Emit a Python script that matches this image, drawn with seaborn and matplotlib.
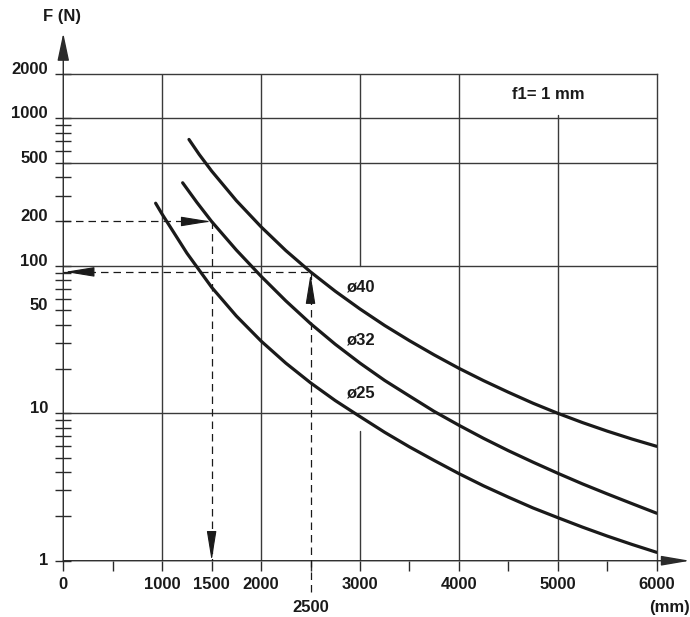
import matplotlib
matplotlib.use("Agg")
import matplotlib.pyplot as plt
import seaborn as sns
import pandas as pd
from matplotlib.ticker import NullFormatter

# ---- data ----
L25 = [934, 1000, 1250, 1500, 1750, 2000, 2250, 2500, 2750, 3000, 3250, 3500,
       3750, 4000, 4250, 4500, 4750, 5000, 5250, 5500, 5750, 6000]
F25 = [266, 224, 122, 71.6, 45.7, 30.9, 21.9, 16.1, 12.2, 9.5, 7.43, 5.92,
       4.79, 3.90, 3.22, 2.70, 2.28, 1.96, 1.69, 1.47, 1.29, 1.14]

L32 = [1207, 1350, 1500, 1750, 2000, 2250, 2500, 2750, 3000, 3250, 3500, 3750,
       4000, 4250, 4500, 4750, 5000, 5250, 5500, 5750, 6000]
F32 = [366, 270, 200, 128, 85, 57.9, 40.6, 29.4, 21.9, 16.7, 13.1, 10.3,
       8.3, 6.76, 5.58, 4.66, 3.92, 3.32, 2.84, 2.44, 2.10]

L40 = [1271, 1375, 1500, 1750, 2000, 2250, 2500, 2750, 3000, 3250, 3500, 3750,
       4000, 4250, 4500, 4750, 5000, 5250, 5500, 5750, 6000]
F40 = [720, 569, 440, 277, 184, 127, 91, 67.3, 51, 39.4, 31.1, 24.9,
       20.2, 16.65, 13.9, 11.7, 10.0, 8.65, 7.57, 6.69, 5.97]

curve_names = ["ø25", "ø32", "ø40"]
curve_label_F = [13.8, 31.6, 72]
curve_label_L = 3000

x_major = [0, 1000, 1500, 2000, 3000, 4000, 5000, 6000]
x_major_labels = ["0", "1000", "1500", "2000", "3000", "4000", "5000", "6000"]
x_minor = [500, 2500, 3500, 4500, 5500]

y_major = [1, 10, 50, 100, 200, 500, 1000, 2000]
y_major_labels = ["1", "10", "50", "100", "200", "500", "1000", "2000"]
y_minor = [2, 3, 4, 5, 6, 7, 8, 9, 20, 30, 40, 60, 70, 80, 90,
           300, 400, 600, 700, 800, 900]

h_grid = [10, 100, 500, 1000]
v_grid_full = [1000, 2000, 4000]
v_grid_3000 = [(1, 7.6), (100, 2000)]
v_grid_5000 = [(1, 1050)]

# example reading lines
ex1_L, ex1_F = 1500, 200
ex2_L, ex2_F = 2500, 91

INK = "#1a1a1a"
GRID = "#3a3a3a"
AXC = "#2a2a2a"

sns.set_theme(style="white")
plt.rcParams["font.family"] = ["Liberation Sans", "DejaVu Sans"]
plt.rcParams["font.weight"] = "bold"

fig = plt.figure(figsize=(6.9, 6.17), dpi=100)
ax = fig.add_axes([0.0917, 0.0912, 0.86, 0.7888])

df = pd.concat([
    pd.DataFrame({"L": L25, "F": F25, "dia": "ø25"}),
    pd.DataFrame({"L": L32, "F": F32, "dia": "ø32"}),
    pd.DataFrame({"L": L40, "F": F40, "dia": "ø40"}),
])
sns.lineplot(data=df, x="L", y="F", units="dia", estimator=None, color=INK,
             lw=2.3, ax=ax, legend=False, zorder=5)

ax.set_yscale("log")
ax.set_xlim(0, 6000)
ax.set_ylim(1, 2000)
ax.set_xlabel("")
ax.set_ylabel("")

# grid
for v in h_grid:
    ax.axhline(v, color=GRID, lw=1.0, zorder=1)
for v in v_grid_full:
    ax.axvline(v, color=GRID, lw=1.0, zorder=1)
for a, b in v_grid_3000:
    ax.plot([3000, 3000], [a, b], color=GRID, lw=1.0, zorder=1)
for a, b in v_grid_5000:
    ax.plot([5000, 5000], [a, b], color=GRID, lw=1.0, zorder=1)

for s in ["top", "right"]:
    ax.spines[s].set_color(GRID)
    ax.spines[s].set_linewidth(1.0)
for s in ["left", "bottom"]:
    ax.spines[s].set_visible(False)

# ticks
ax.set_xticks(x_major, labels=x_major_labels, fontsize=12, fontweight="bold")
ax.set_xticks(x_minor, minor=True)
ax.tick_params(axis="x", which="both", bottom=True, top=False, direction="out",
               length=7.2, width=1.0, color=AXC, pad=4.5, labelcolor=INK)
ax.set_yticks(y_major)
ax.set_yticks(y_minor, minor=True)
ax.yaxis.set_major_formatter(NullFormatter())
ax.yaxis.set_minor_formatter(NullFormatter())
ax.tick_params(axis="y", which="both", left=True, right=False, direction="inout",
               length=11.5, width=1.0, color=AXC)

ytr = ax.get_yaxis_transform()
for v, s in zip(y_major, y_major_labels):
    ax.text(-0.0258, v, s, transform=ytr, ha="right",
            va="center" if v == 1 else "baseline",
            fontsize=12, fontweight="bold", color=INK)

# axis arrows
axis_arrow = dict(arrowstyle="-|>,head_length=1.7,head_width=0.36", mutation_scale=10,
                  lw=1.0, color=AXC, shrinkA=0, shrinkB=0)
ax.annotate("", xy=(0, 1.084), xytext=(0, 0), xycoords="axes fraction",
            arrowprops=axis_arrow, annotation_clip=False)
ax.annotate("", xy=(1.056, 0), xytext=(0, 0), xycoords="axes fraction",
            arrowprops=dict(axis_arrow, arrowstyle="-|>,head_length=1.75,head_width=0.3"),
            annotation_clip=False)

# dashed reading lines
dash = (0, (6, 4))
ax.plot([0, ex1_L - 10], [ex1_F, ex1_F], ls=dash, lw=0.9, color=INK, zorder=3)
ax.plot([ex1_L, ex1_L], [ex1_F, 1], ls=dash, lw=0.9, color=INK, zorder=3)
ax.plot([0, ex2_L], [ex2_F, ex2_F], ls=dash, lw=0.9, color=INK, zorder=3)
ax.plot([ex2_L, ex2_L], [ex2_F, 0.583], ls=dash, lw=0.9, color=INK, zorder=3,
        clip_on=False)

head = dict(arrowstyle="-|>,head_length=1.85,head_width=0.3", mutation_scale=10,
            lw=0.8, color=INK, shrinkA=0, shrinkB=0)
ax.annotate("", xy=(ex1_L - 10, ex1_F), xytext=(-19, 0), textcoords="offset points",
            arrowprops=head, annotation_clip=False)
ax.annotate("", xy=(ex1_L, 1), xytext=(0, 19), textcoords="offset points",
            arrowprops=head, annotation_clip=False)
ax.annotate("", xy=(ex2_L, ex2_F * 0.965), xytext=(0, -19), textcoords="offset points",
            arrowprops=head, annotation_clip=False)
ax.annotate("", xy=(15, ex2_F), xytext=(19, 0), textcoords="offset points",
            arrowprops=head, annotation_clip=False)

# texts
for name, fv in zip(curve_names, curve_label_F):
    ax.text(curve_label_L, fv, name, ha="center", va="center", fontsize=12,
            fontweight="bold", color=INK)
ax.text(4900, 1460, "f1= 1 mm", ha="center", va="center", fontsize=12,
        fontweight="bold", color=INK)
ax.text(2500, -0.0961, "2500", transform=ax.get_xaxis_transform(), ha="center",
        va="center", fontsize=12, fontweight="bold", color=INK)
fig.text(669 / 690, 1 - 607.5 / 617, "(mm)", ha="center", va="center", fontsize=12,
         fontweight="bold", color=INK)
fig.text(62 / 690, 1 - 16.7 / 617, "F (N)", ha="center", va="center", fontsize=12,
         fontweight="bold", color=INK)

fig.savefig("out.png", dpi=100)
